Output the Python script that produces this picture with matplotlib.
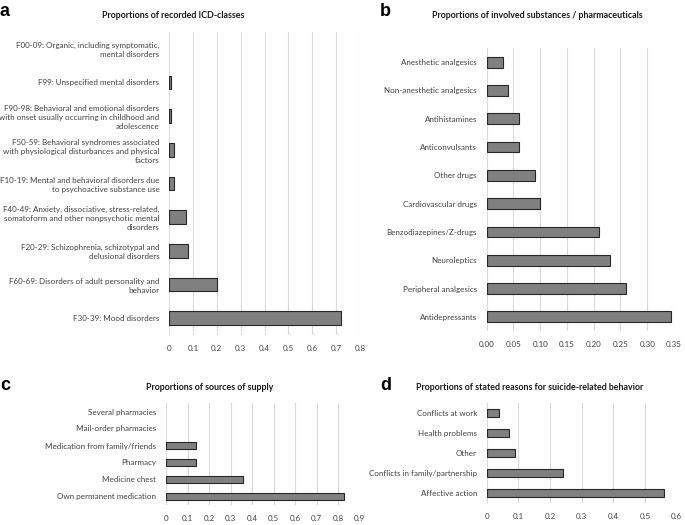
import matplotlib.pyplot as plt

# ---- data ----
icd_labels = ['F00-09: Organic, including symptomatic,\nmental disorders',
              'F99: Unspecified mental disorders',
              'F90-98: Behavioral and emotional disorders\nwith onset usually occurring in childhood and\nadolescence',
              'F50-59: Behavioral syndromes associated\nwith physiological disturbances and physical\nfactors',
              'F10-19: Mental and behavioral disorders due\nto psychoactive substance use',
              'F40-49: Anxiety, dissociative, stress-related,\nsomatoform and other nonpsychotic mental\ndisorders',
              'F20-29: Schizophrenia, schizotypal and\ndelusional disorders',
              'F60-69: Disorders of adult personality and\nbehavior',
              'F30-39: Mood disorders']
icd_vals = [0, 0.01, 0.01, 0.02, 0.02, 0.07, 0.08, 0.2, 0.72]

subst_labels = ['Anesthetic analgesics', 'Non-anesthetic analgesics', 'Antihistamines',
                'Anticonvulsants', 'Other drugs', 'Cardiovascular drugs',
                'Benzodiazepines/Z-drugs', 'Neuroleptics', 'Peripheral analgesics',
                'Antidepressants']
subst_vals = [0.03, 0.04, 0.06, 0.06, 0.09, 0.10, 0.21, 0.23, 0.26, 0.345]

supply_labels = ['Several pharmacies', 'Mail-order pharmacies', 'Medication from family/friends',
                 'Pharmacy', 'Medicine chest', 'Own permanent medication']
supply_vals = [0, 0, 0.14, 0.14, 0.36, 0.83]

reason_labels = ['Conflicts at work', 'Health problems', 'Other',
                 'Conflicts in family/partnership', 'Affective action']
reason_vals = [0.04, 0.07, 0.09, 0.24, 0.56]

W, H = 685, 525
plt.rcParams['font.family'] = ['Lato', 'DejaVu Sans']
fig = plt.figure(figsize=(W / 100, H / 100), dpi=100)


def rect(x0, x1, y0, y1):
    return [x0 / W, 1 - y1 / H, (x1 - x0) / W, (y1 - y0) / H]


def fpos(x, y):
    return x / W, 1 - y / H


def panel(r, labels, vals, xmax, step, fmt, height):
    ax = fig.add_axes(r)
    ypos = range(len(labels))
    # empty categories get no outline
    lws = [0.8 if v > 0 else 0 for v in vals]
    ax.barh(ypos, vals, height=height, color='#808080', edgecolor='#262626', linewidth=lws, zorder=3)
    ax.set_ylim(len(labels) - 0.5, -0.5)
    ax.set_xlim(0, xmax)
    ticks = [i * step for i in range(int(round(xmax / step)) + 1)]
    ax.set_xticks(ticks)
    ax.set_xticklabels([fmt(t) for t in ticks], fontsize=5.8, color='#404040')
    ax.set_yticks(list(ypos))
    ax.set_yticklabels(labels, fontsize=5.8, color='#404040', linespacing=1.3)
    ax.tick_params(length=0, axis='y', pad=7)
    ax.tick_params(length=0, axis='x', pad=7)
    ax.grid(axis='x', color='#d9d9d9', linewidth=0.8, zorder=0)
    for s in ax.spines.values():
        s.set_visible(False)
    ax.patch.set_alpha(0)
    return ax


def plain(t):
    return '0' if t == 0 else ('%.1f' % t)


panel(rect(169, 360, 32, 335), icd_labels, icd_vals, 0.8, 0.1, plain, 0.4)
panel(rect(486.7, 674, 48, 331), subst_labels, subst_vals, 0.35, 0.05, lambda t: '%.2f' % t, 0.38)
panel(rect(166, 359.5, 403, 505), supply_labels, supply_vals, 0.9, 0.1, plain, 0.4)
panel(rect(486.7, 676.7, 403, 503), reason_labels, reason_vals, 0.6, 0.1, plain, 0.4)

# titles
titles = [('Proportions of recorded ICD-classes', 173, 15),
          ('Proportions of involved substances / pharmaceuticals', 537, 15),
          ('Proportions of sources of supply', 210, 388),
          ('Proportions of stated reasons for suicide-related behavior', 530, 387)]
for t, x, y in titles:
    fig.text(*fpos(x, y), t, ha='center', va='center', fontsize=6.4, fontweight='bold', color='#1a1a1a')

letters = [('a', 0, 12), ('b', 380, 12), ('c', 0, 386), ('d', 380, 385)]
for t, x, y in letters:
    fig.text(*fpos(x, y), t, ha='left', va='center', fontsize=13, fontweight='bold',
             family='Liberation Sans')

fig.savefig('out.png', dpi=100)
